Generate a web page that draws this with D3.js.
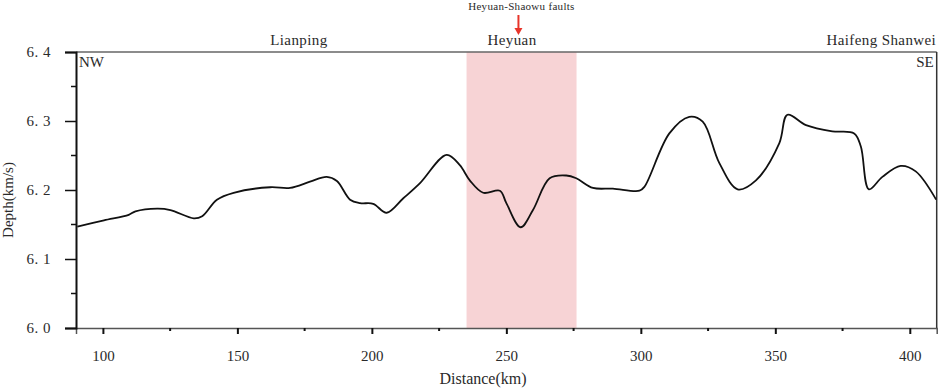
<!DOCTYPE html>
<html>
<head>
<meta charset="utf-8">
<script src="https://cdn.jsdelivr.net/npm/d3@7"></script>
<style>
  body { margin: 0; background: #fff; }
  text { font-family: "Liberation Serif", "DejaVu Serif", serif; fill: #2a2a2a; }
</style>
</head>
<body>
<div id="chart"></div>
<script>
const width = 941, height = 388;

// profile distance (km) and velocity values
const distance = [90.5, 100.4, 109.6, 112.1, 120.2, 125.1, 133.8, 136.9, 142.4, 148.6, 162.2, 169.6, 177, 183.2, 187, 191.9, 195.6, 200.5, 205.5, 211.7, 217.9, 227.8, 232.7, 236.4, 241.4, 247.6, 250, 255.3, 259.9, 266.1, 272.3, 276, 282.2, 289.6, 299.5, 301.4, 310.6, 318, 323, 329.2, 336, 342.8, 351.5, 354.5, 361.4, 371.2, 379.3, 381.8, 384.8, 389.8, 396.6, 402.2, 409.8];
const velocity = [6.147, 6.156, 6.164, 6.169, 6.173, 6.171, 6.159, 6.162, 6.186, 6.196, 6.204, 6.203, 6.212, 6.219, 6.213, 6.186, 6.181, 6.180, 6.167, 6.188, 6.210, 6.251, 6.236, 6.214, 6.196, 6.199, 6.181, 6.146, 6.171, 6.217, 6.221, 6.217, 6.203, 6.202, 6.199, 6.205, 6.282, 6.306, 6.299, 6.239, 6.201, 6.214, 6.268, 6.309, 6.294, 6.285, 6.282, 6.263, 6.201, 6.219, 6.235, 6.227, 6.186];

const xTicks = [100, 150, 200, 250, 300, 350, 400];
const xMinorTicks = [125, 175, 225, 275, 325, 375];
const yTicks = [6.0, 6.1, 6.2, 6.3, 6.4];
const yTickLabels = ["6. 0", "6. 1", "6. 2", "6. 3", "6. 4"];
const yMinorTicks = [6.05, 6.15, 6.25, 6.35];

const places = ["Lianping", "Heyuan", "Haifeng Shanwei"];
const placeKm = [162.2, 243, 409.8];
const faultZone = [235.2, 276.1];
const faultKm = 254.5;

const margin = { top: 52, right: 4, bottom: 60, left: 76 };

const svg = d3.select("#chart")
      .append("svg")
      .attr("width", width)
      .attr("height", height);

const x = d3.scaleLinear()
      .domain([90, 410])
      .range([margin.left, width - margin.right - 0.3]);

const y = d3.scaleLinear()
      .domain([6.0, 6.4])
      .range([height - margin.bottom, margin.top]);

// fault zone band
svg.append("rect")
      .attr("x", x(faultZone[0]))
      .attr("y", y(6.4))
      .attr("width", x(faultZone[1]) - x(faultZone[0]))
      .attr("height", y(6.0) - y(6.4))
      .attr("fill", "#f7d3d5");

// frame lines
svg.append("line")
      .attr("x1", x(90)).attr("x2", x(410))
      .attr("y1", y(6.4)).attr("y2", y(6.4))
      .attr("stroke", "#666").attr("stroke-width", 1.5);
svg.append("line")
      .attr("x1", x(410)).attr("x2", x(410))
      .attr("y1", y(6.4)).attr("y2", y(6.0))
      .attr("stroke", "#333").attr("stroke-width", 1.5);

// bottom axis
const xAxis = svg.append("g")
      .attr("transform", `translate(0,${y(6.0)})`)
      .call(d3.axisBottom(x).tickValues(xTicks).tickSize(6).tickPadding(16));
xAxis.select(".domain").attr("stroke", "#555").attr("stroke-width", 1.5);
xAxis.selectAll(".tick line").attr("stroke", "#111").attr("stroke-width", 2);
xAxis.selectAll(".tick text").style("font-size", "15px").attr("fill", "#2a2a2a");
svg.append("g")
      .selectAll("line")
      .data(xMinorTicks)
      .join("line")
      .attr("x1", d => x(d)).attr("x2", d => x(d))
      .attr("y1", y(6.0)).attr("y2", y(6.0) + 3)
      .attr("stroke", "#111").attr("stroke-width", 2);

// left axis
const yAxis = svg.append("g")
      .attr("transform", `translate(${x(90)},0)`)
      .call(d3.axisLeft(y).tickValues(yTicks).tickSize(11).tickPadding(14)
            .tickFormat((d, i) => yTickLabels[i]));
yAxis.select(".domain").attr("stroke", "#111").attr("stroke-width", 2);
yAxis.selectAll(".tick line").attr("stroke", "#111").attr("stroke-width", 1.5);
yAxis.selectAll(".tick text")
      .style("font-size", "15px")
      .style("letter-spacing", "0.5px")
      .attr("fill", "#2a2a2a");
svg.append("g")
      .selectAll("line")
      .data(yMinorTicks)
      .join("line")
      .attr("x1", x(90) - 5).attr("x2", x(90))
      .attr("y1", d => y(d)).attr("y2", d => y(d))
      .attr("stroke", "#111").attr("stroke-width", 1.5);

// velocity profile
svg.append("path")
      .datum(distance.map((d, i) => [d, velocity[i]]))
      .attr("fill", "none")
      .attr("stroke", "#111")
      .attr("stroke-width", 1.8)
      .attr("d", d3.line()
            .x(d => x(d[0]))
            .y(d => y(d[1]))
            .curve(d3.curveCatmullRom.alpha(0.5)));

// axis titles
svg.append("text")
      .attr("x", 483).attr("y", height - 4)
      .attr("text-anchor", "middle")
      .style("font-size", "16px")
      .text("Distance(km)");
svg.append("text")
      .attr("transform", `translate(13,${(y(6.0) + y(6.4)) / 2 + 10}) rotate(-90)`)
      .attr("text-anchor", "middle")
      .style("font-size", "15px")
      .text("Depth(km/s)");

// place names on top
svg.append("g")
      .selectAll("text")
      .data(places)
      .join("text")
      .attr("x", (d, i) => x(placeKm[i]))
      .attr("y", 45)
      .attr("text-anchor", (d, i) => i === 2 ? "end" : "start")
      .style("font-size", "15px")
      .style("letter-spacing", "0.4px")
      .text(d => d);

// direction labels
svg.append("text")
      .attr("x", x(90) + 3).attr("y", y(6.4) + 15)
      .style("font-size", "15px")
      .text("NW");
svg.append("text")
      .attr("x", x(410) - 3).attr("y", y(6.4) + 15)
      .attr("text-anchor", "end")
      .style("font-size", "15px")
      .text("SE");

// fault annotation
svg.append("text")
      .attr("x", x(faultKm) + 3).attr("y", 10)
      .attr("text-anchor", "middle")
      .style("font-size", "11px")
      .style("letter-spacing", "0.3px")
      .text("Heyuan-Shaowu faults");
svg.append("line")
      .attr("x1", x(faultKm)).attr("x2", x(faultKm))
      .attr("y1", 15).attr("y2", 30)
      .attr("stroke", "#e8352a").attr("stroke-width", 2);
svg.append("path")
      .attr("d", `M${x(faultKm) - 4},28 L${x(faultKm) + 4},28 L${x(faultKm)},35 Z`)
      .attr("fill", "#e8352a");
</script>
</body>
</html>
